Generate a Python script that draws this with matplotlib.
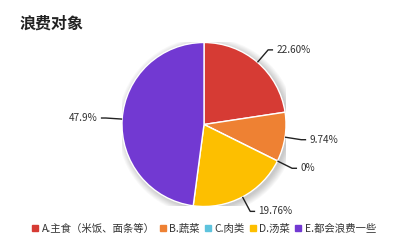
import matplotlib
matplotlib.use("Agg")
import matplotlib.pyplot as plt
import numpy as np
from matplotlib.patches import Circle
from matplotlib.lines import Line2D

plt.rcParams['font.family'] = ['Noto Sans CJK SC', 'DejaVu Sans']

title = "浪费对象"
categories = ["A.主食（米饭、面条等）", "B.蔬菜", "C.肉类", "D.汤菜", "E.都会浪费一些"]
values = [22.60, 9.74, 0.0, 19.76, 47.9]
labels = ["22.60%", "9.74%", "0%", "19.76%", "47.9%"]
colors = ["#d63b34", "#ee8133", "#5ec3dd", "#fdbf00", "#7239d2"]

W, H = 400, 243
fig = plt.figure(figsize=(W / 100, H / 100), dpi=100)
cx, cy, R = 204, 124.5, 82
ax = fig.add_axes([(cx - R) / W, (H - cy - R) / H, 2 * R / W, 2 * R / H])
ax.set_xlim(-1, 1)
ax.set_ylim(-1, 1)
ax.axis('off')

# soft shadow
for i in range(8):
    ax.add_patch(Circle((0.03, -0.025), 1.0 + 0.012 * i, color='black',
                        alpha=0.028, lw=0, zorder=0))

wedges, _ = ax.pie(values, colors=colors, startangle=90, counterclock=False,
                   radius=1.0, wedgeprops=dict(edgecolor='white', linewidth=1.0),
                   normalize=True)
for w in wedges:
    w.set_zorder(2)
ax.set_xlim(-1, 1)
ax.set_ylim(-1, 1)

total = sum(values)
cum = 0.0
for v, lab in zip(values, labels):
    mid = 90 - (cum + v / 2) / total * 360
    cum += v
    a = np.deg2rad(mid)
    p0 = (np.cos(a), np.sin(a))
    p1 = (1.2 * np.cos(a), 1.2 * np.sin(a))
    sgn = 1 if np.cos(a) >= 0 else -1
    p2 = (p1[0] + sgn * 0.06, p1[1])
    ax.plot([p0[0], p1[0], p2[0]], [p0[1], p1[1], p2[1]], color='#222222',
            lw=1.0, clip_on=False, zorder=3, solid_capstyle='butt')
    ax.text(p2[0] + sgn * 0.04, p2[1], lab, fontsize=7.2, color='#333333',
            ha='left' if sgn > 0 else 'right', va='center', clip_on=False)

fig.text(20 / W, 1 - 24 / H, title, fontsize=11.5, fontweight='bold',
         color='#222222', ha='left', va='center')

handles = [Line2D([], [], marker='s', linestyle='none', markersize=4,
                  markerfacecolor=c, markeredgecolor=c) for c in colors]
fig.legend(handles, categories, loc='center', bbox_to_anchor=(204 / W, 1 - 229 / H),
           ncol=5, frameon=False, fontsize=7.5, handlelength=0.6,
           handletextpad=0.35, columnspacing=0.45, borderpad=0,
           labelcolor='#333333')

fig.savefig("out.png", dpi=100)
